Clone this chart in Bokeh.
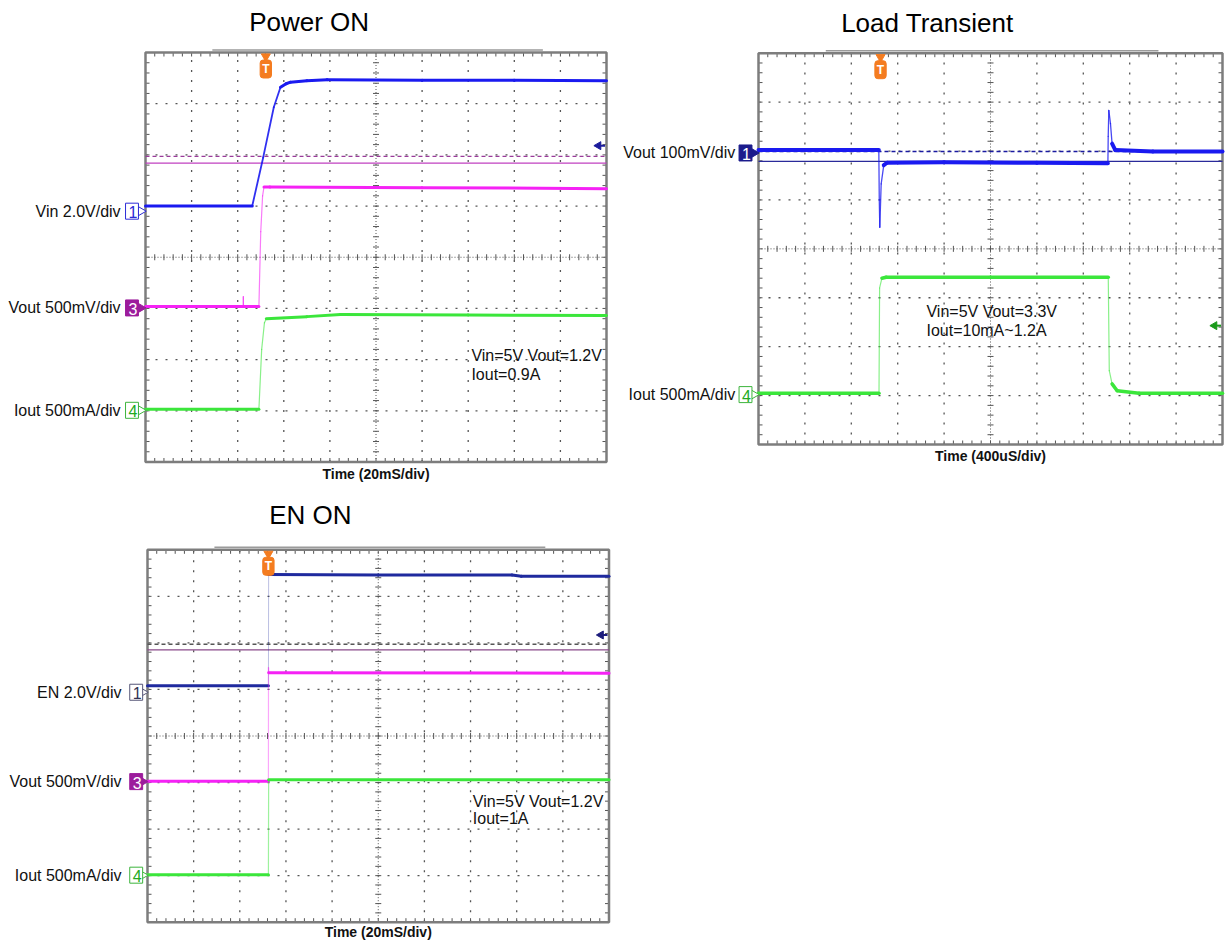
import numpy as np
from bokeh.plotting import figure
from bokeh.layouts import column, row
from bokeh.models import Label, Range1d
from bokeh.embed import file_html
from bokeh.resources import INLINE

# ---------------- data, in scope divisions (x: 0..10, y: 0..8) ----------------
# Power ON
p1_t_vin = [0, 2.315, 2.553, 2.783, 2.928, 3.05, 3.145, 3.5, 3.94, 6.0, 8.0, 10.0]
p1_vin = [5.0, 5.0, 5.95, 6.93, 7.32, 7.39, 7.42, 7.45, 7.47, 7.46, 7.46, 7.45]
p1_t_vout = [0, 2.12, 2.122, 2.126, 2.46, 2.50, 2.54, 2.57, 2.7, 6.0, 10.0]
p1_vout = [3.04, 3.04, 3.23, 3.04, 3.04, 4.5, 5.2, 5.37, 5.37, 5.36, 5.34]
p1_t_iout = [0, 2.46, 2.52, 2.58, 2.62, 3.5, 4.23, 7.0, 10.0]
p1_iout = [1.03, 1.03, 2.2, 2.72, 2.80, 2.84, 2.88, 2.87, 2.86]
p1_ref_levels = [5.97, 5.84]          # dashed, solid
p1_arrow_level = 6.18
p1_trigger = 2.61
p1_channel_levels = [4.90, 3.01, 1.01]
p1_channel_names = ["Vin 2.0V/div", "Vout 500mV/div", "Iout 500mA/div"]
p1_channel_ids = ["1", "3", "4"]
p1_note = ["Vin=5V Vout=1.2V", "Iout=0.9A"]

# Load Transient
p2_t_vout = [0, 2.593, 2.603, 2.614, 2.644, 2.70, 2.77, 4.0, 6.0, 7.53, 7.537, 7.55, 7.586, 7.62, 7.69, 8.5, 10.0]
p2_vout = [6.02, 6.02, 5.0, 4.44, 5.33, 5.71, 5.76, 5.77, 5.76, 5.75, 6.3, 6.83, 6.56, 6.15, 6.02, 5.99, 5.99]
p2_t_iout = [0, 2.597, 2.61, 2.66, 2.75, 5.0, 7.538, 7.56, 7.62, 7.73, 8.2, 10.0]
p2_iout = [1.05, 1.05, 3.2, 3.40, 3.42, 3.42, 3.42, 1.51, 1.24, 1.10, 1.05, 1.05]
p2_ref_levels = [5.99, 5.79]
p2_arrow_level = 2.43
p2_trigger = 2.63
p2_channel_levels = [5.96, 1.02]
p2_channel_names = ["Vout 100mV/div", "Iout 500mA/div"]
p2_channel_ids = ["1", "4"]
p2_note = ["Vin=5V  Vout=3.3V", "Iout=10mA~1.2A"]

# EN ON
p3_t_en = [0, 2.62, 2.625, 5.0, 7.9, 8.1, 10.0]
p3_en = [5.08, 5.08, 7.47, 7.46, 7.46, 7.43, 7.43]
p3_t_vout = [0, 2.62, 2.622, 2.625, 10.0]
p3_vout = [3.03, 3.03, 5.47, 5.36, 5.35]
p3_t_iout = [0, 2.62, 2.625, 10.0]
p3_iout = [1.02, 1.02, 3.06, 3.06]
p3_ref_levels = [5.97, 5.85]
p3_arrow_level = 6.17
p3_trigger = 2.62
p3_channel_levels = [4.94, 3.02, 1.01]
p3_channel_names = ["EN 2.0V/div", "Vout 500mV/div", "Iout 500mA/div"]
p3_channel_ids = ["1", "3", "4"]
p3_note = ["Vin=5V Vout=1.2V", "Iout=1A"]

# scope record bar above the graticule (in divisions)
record_bar = [1.45, 8.62]

FONT = "Liberation Sans"
ORANGE = "#f47c20"


def scope(fig_w, fig_h, bx, by, bw, bh):
    sx, sy = bw / 10.0, bh / 8.0
    p = figure(width=fig_w, height=fig_h,
               x_range=Range1d(-bx / sx, (fig_w - bx) / sx),
               y_range=Range1d((by + bh - fig_h) / sy, (by + bh) / sy),
               output_backend="svg", toolbar_location=None,
               x_axis_location=None, y_axis_location=None,
               min_border=0, min_border_left=0, min_border_right=0,
               min_border_top=0, min_border_bottom=0,
               background_fill_color="white", border_fill_color="white",
               outline_line_color=None)
    p.grid.visible = False
    # dotted division grid
    xs = [x for x in range(1, 10) if x != 5]
    ys = [y for y in range(1, 8) if y != 4]
    p.segment(x0=xs, y0=[0] * len(xs), x1=xs, y1=[8] * len(xs),
              line_color="#555555", line_width=1.3, line_dash="2 8")
    p.segment(x0=[0] * len(ys), y0=ys, x1=[10] * len(ys), y1=ys,
              line_color="#555555", line_width=1.3, line_dash="2 8")
    # centre cross
    p.segment(x0=[5, 0], y0=[0, 4], x1=[5, 10], y1=[8, 4],
              line_color="#555555", line_width=1, line_dash="1 2")
    tx = np.arange(0.2, 10, 0.2)
    ty = np.arange(0.2, 8, 0.2)
    tl = 4.0
    p.segment(x0=tx, y0=4 - 3 / sy, x1=tx, y1=4 + 3 / sy, line_color="#555555", line_width=1)
    p.segment(x0=5 - 3 / sx, y0=ty, x1=5 + 3 / sx, y1=ty, line_color="#555555", line_width=1)
    p.segment(x0=tx, y0=0, x1=tx, y1=tl / sy, line_color="#555555", line_width=1)
    p.segment(x0=tx, y0=8, x1=tx, y1=8 - tl / sy, line_color="#555555", line_width=1)
    p.segment(x0=0, y0=ty, x1=tl / sx, y1=ty, line_color="#555555", line_width=1)
    p.segment(x0=10, y0=ty, x1=10 - tl / sx, y1=ty, line_color="#555555", line_width=1)
    # graticule border and record bar
    p.quad(left=[0], right=[10], bottom=[0], top=[8], fill_color=None,
           line_color="#7d7d7d", line_width=2.5)
    p.segment(x0=[record_bar[0]], y0=[8 + 2.5 / sy], x1=[record_bar[1]], y1=[8 + 2.5 / sy],
              line_color="#9a9a9a", line_width=1.5)
    return p, sx, sy


def trace(p, t, v, color, sx, sy, thick=3.0, thin=1.2, thin_alpha=0.6):
    t = np.asarray(t, float)
    v = np.asarray(v, float)
    dx = np.diff(t) * sx
    dy = np.diff(v) * sy
    flat = np.abs(dy) <= 2.0 * np.abs(dx)
    steep = ~flat
    if steep.any():
        p.segment(x0=t[:-1][steep], y0=v[:-1][steep], x1=t[1:][steep], y1=v[1:][steep],
                  line_color=color, line_width=thin, line_alpha=thin_alpha, line_cap="round")
    if flat.any():
        p.segment(x0=t[:-1][flat], y0=v[:-1][flat], x1=t[1:][flat], y1=v[1:][flat],
                  line_color=color, line_width=thick, line_cap="round")


def decorations(p, sx, sy, ref_levels, ref_colors, arrow_level, arrow_color, trigger):
    p.segment(x0=0, y0=ref_levels[0], x1=10, y1=ref_levels[0],
              line_color=ref_colors[0], line_width=1.4, line_dash="4 3")
    p.segment(x0=0, y0=ref_levels[1], x1=10, y1=ref_levels[1],
              line_color=ref_colors[1], line_width=1.3)
    ax = 10 - 8 / sx
    p.scatter(x=[ax], y=[arrow_level], marker="triangle", angle=np.pi / 2, size=8,
              fill_color=arrow_color, line_color=arrow_color)
    p.segment(x0=ax, y0=arrow_level, x1=10 - 1.5 / sx, y1=arrow_level,
              line_color=arrow_color, line_width=2)
    p.scatter(x=[trigger], y=[8 - 4 / sy], marker="inverted_triangle", size=9,
              fill_color=ORANGE, line_color=ORANGE)
    p.add_layout(Label(x=trigger, y=8 - 16.5 / sy, text="T", text_align="center",
                       text_baseline="middle", text_font=FONT, text_font_size="12px",
                       text_font_style="bold", text_color="white",
                       background_fill_color=ORANGE, border_line_color=ORANGE,
                       padding=2, border_radius=3))


def texts(p, sx, sy, title, title_x, title_y, time_text, time_y,
          names, levels, ids, id_styles, name_right, id_x, note, note_x, note_ys):
    p.add_layout(Label(x=title_x, y=title_y, text=title, text_align="center",
                       text_baseline="middle", text_font=FONT,
                       text_font_size="26px", text_color="#000000"))
    p.add_layout(Label(x=5, y=time_y, text=time_text, text_align="center",
                       text_baseline="middle", text_font=FONT, text_font_size="14px",
                       text_font_style="bold", text_color="#111111"))
    for name, lev, cid, st in zip(names, levels, ids, id_styles):
        p.add_layout(Label(x=name_right, y=lev, text=name, text_align="right",
                           text_baseline="middle", text_font=FONT,
                           text_font_size="16px", text_color="#111111"))
        # pointer of the channel marker
        p.scatter(x=[-4.5 / sx], y=[lev], marker="triangle", angle=-np.pi / 2, size=9,
                  fill_color=st[1], line_color=st[2], line_width=1)
        p.add_layout(Label(x=id_x, y=lev, text=cid, text_align="center",
                           text_baseline="middle", text_font=FONT,
                           text_font_size="16px", text_color=st[0],
                           background_fill_color=st[1], border_line_color=st[2],
                           border_line_width=1, padding=(3, 1, 3, 1)))
    for line, ny in zip(note, note_ys):
        p.add_layout(Label(x=note_x, y=ny, text=line, text_align="left",
                           text_baseline="middle", text_font=FONT,
                           text_font_size="16px", text_color="#111111"))


BLUE = "#1a1af0"
MAGENTA = "#f522f5"
GREEN = "#3be63b"
NAVY = "#1f2a9e"
ST_BLUE_OUT = ("#2b2bd6", "white", "#2b2bd6")
ST_PURPLE = ("white", "#9c1c9c", "#9c1c9c")
ST_GREEN_OUT = ("#22aa22", "white", "#3cb43c")
ST_NAVY_FILL = ("white", "#1c1c8c", "#1c1c8c")
ST_DARK_OUT = ("#333355", "white", "#555577")

# ---------------- Power ON ----------------
p1, sx1, sy1 = scope(616, 490, 145, 52, 461, 409.5)
decorations(p1, sx1, sy1, p1_ref_levels, ["#9a3a9a", "#c040c0"], p1_arrow_level, "#1c1c9c", p1_trigger)
trace(p1, p1_t_vin, p1_vin, BLUE, sx1, sy1, thick=3.0, thin=1.8, thin_alpha=0.9)
trace(p1, p1_t_vout, p1_vout, MAGENTA, sx1, sy1)
trace(p1, p1_t_iout, p1_iout, GREEN, sx1, sy1)
texts(p1, sx1, sy1, "Power ON", 3.55, 8.595, "Time (20mS/div)", -0.23,
      p1_channel_names, p1_channel_levels, p1_channel_ids,
      [ST_BLUE_OUT, ST_PURPLE, ST_GREEN_OUT], -0.54, -0.293,
      p1_note, 7.07, [2.076, 1.70])

# ---------------- Load Transient ----------------
p2, sx2, sy2 = scope(610, 490, 142, 52.7, 464, 391.3)
decorations(p2, sx2, sy2, p2_ref_levels, ["#1a1aa0", "#2a2a9a"], p2_arrow_level, "#1a9a1a", p2_trigger)
trace(p2, p2_t_vout, p2_vout, BLUE, sx2, sy2, thick=4.0, thin=1.3, thin_alpha=0.8)
trace(p2, p2_t_iout, p2_iout, GREEN, sx2, sy2, thick=3.5)
texts(p2, sx2, sy2, "Load Transient", 3.64, 8.626, "Time (400uS/div)", -0.225,
      p2_channel_names, p2_channel_levels, p2_channel_ids,
      [ST_NAVY_FILL, ST_GREEN_OUT], -0.50, -0.28,
      p2_note, 3.62, [2.724, 2.34])

# ---------------- EN ON ----------------
p3, sx3, sy3 = scope(616, 450, 147, 59.3, 461.5, 372.4)
decorations(p3, sx3, sy3, p3_ref_levels, ["#555555", "#8a4a8a"], p3_arrow_level, "#1c1c7c", p3_trigger)
trace(p3, p3_t_en, p3_en, NAVY, sx3, sy3, thick=3.0, thin=1.0, thin_alpha=0.3)
trace(p3, p3_t_vout, p3_vout, MAGENTA, sx3, sy3, thin_alpha=0.4)
trace(p3, p3_t_iout, p3_iout, GREEN, sx3, sy3, thin_alpha=0.5)
texts(p3, sx3, sy3, "EN ON", 3.53, 8.743, "Time (20mS/div)", -0.215,
      p3_channel_names, p3_channel_levels, p3_channel_ids,
      [ST_DARK_OUT, ST_PURPLE, ST_GREEN_OUT], -0.563, -0.245,
      p3_note, 7.05, [2.60, 2.22])

layout = column(row(p1, p2), p3)
open("out.html", "w").write(file_html(layout, INLINE))
